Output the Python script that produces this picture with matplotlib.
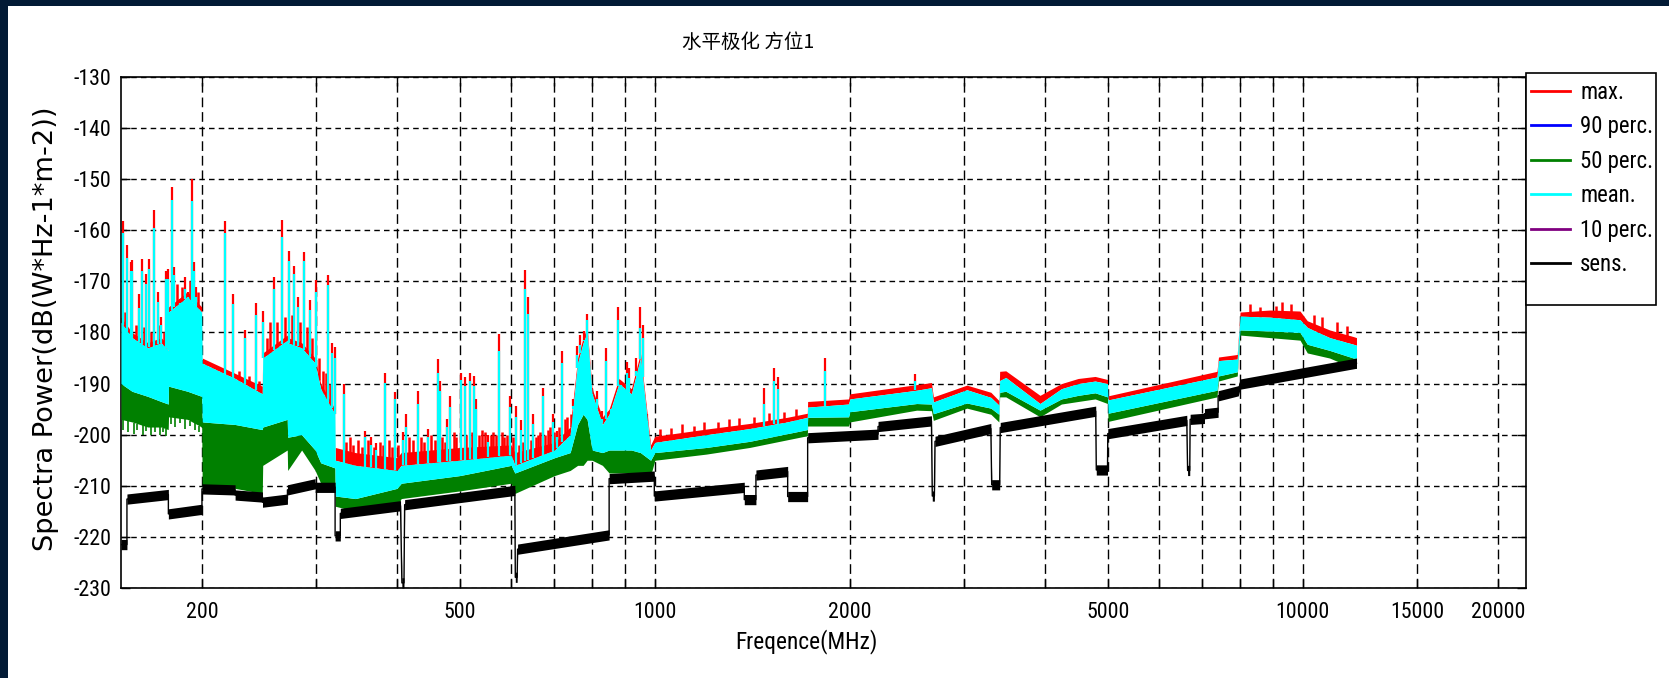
import numpy as np
import matplotlib
matplotlib.use("Agg")
import matplotlib.pyplot as plt
from matplotlib import font_manager as fm
from matplotlib.font_manager import FontProperties
from matplotlib.textpath import TextPath
from matplotlib.lines import Line2D
from matplotlib.patches import Rectangle
from matplotlib.ticker import FixedLocator, NullFormatter

# ---------------- spectrum envelopes (MHz, dB(W*Hz-1*m-2)) ----------------
freq = [150, 156, 165, 173, 177.4, 177.6, 190, 199.8, 200.2, 225, 247.8, 248.2,
        270.8, 271.2, 285, 299, 305, 320.8, 321.2, 345, 400, 406, 500, 600, 608,
        700, 740, 760, 775, 786, 800, 830, 850, 880, 920, 950, 985, 1000, 1200,
        1400, 1600, 1719, 1721, 1990, 2000, 2535, 2672, 2690, 3030, 3300, 3395,
        3405, 3480, 3930, 4240, 4500, 4780, 4995, 5005, 7370, 7410, 7920, 8000,
        8900, 9900, 10160, 11000, 11970, 12100]

p50_lo = [-197.0, -197.5, -198.5, -198.5, -199.0, -196.5, -197.0, -198.5, -210.5,
          -210.5, -211.5, -206.0, -203.0, -207.0, -203.0, -207.0, -209.5, -210.0,
          -214.0, -215.0, -214.0, -212.5, -211.0, -209.5, -211.5, -208.0, -207.0,
          -206.0, -206.0, -205.0, -205.0, -206.0, -207.5, -207.5, -207.5, -207.5,
          -208.0, -205.0, -203.8, -202.5, -201.0, -200.2, -198.3, -198.3, -197.5,
          -195.2, -195.3, -197.2, -194.8, -196.0, -197.5, -192.6, -192.6, -196.5,
          -194.0, -193.5, -193.0, -193.9, -197.4, -192.6, -189.5, -188.5, -180.5,
          -181.0, -181.5, -184.0, -185.0, -187.0, -187.0]

p50_hi = [-190.0, -191.5, -192.5, -193.5, -194.0, -190.5, -191.5, -192.5, -197.5,
          -198.0, -199.0, -198.5, -197.0, -200.5, -200.0, -203.0, -205.5, -206.5,
          -212.0, -212.5, -210.5, -209.5, -208.0, -206.0, -207.5, -204.5, -203.5,
          -198.0, -196.0, -197.0, -203.0, -203.5, -203.0, -203.0, -203.0, -203.5,
          -205.0, -203.5, -202.5, -201.3, -199.8, -199.0, -196.6, -196.5, -195.5,
          -193.9, -194.0, -195.9, -193.8, -194.8, -196.0, -191.7, -191.5, -195.2,
          -193.0, -192.3, -191.8, -192.6, -195.8, -191.3, -188.5, -187.7, -179.5,
          -179.7, -180.0, -182.3, -183.5, -185.0, -185.0]

mean_hi = [-178.0, -181.0, -183.0, -182.0, -183.5, -176.0, -173.0, -176.0, -186.0,
           -189.0, -192.0, -185.0, -181.5, -182.0, -183.0, -186.0, -191.0, -196.0,
           -205.0, -206.0, -207.0, -206.0, -205.0, -204.0, -206.0, -203.0, -200.0,
           -186.0, -182.0, -180.0, -192.0, -198.0, -196.0, -190.0, -192.0, -185.0,
           -203.0, -201.5, -200.0, -198.8, -197.5, -196.6, -194.6, -194.0, -193.0,
           -191.3, -190.8, -193.6, -191.2, -192.7, -194.2, -189.4, -188.8, -193.9,
           -191.0, -190.0, -189.5, -190.0, -193.2, -188.7, -185.5, -185.2, -176.8,
           -177.0, -177.5, -179.0, -181.0, -182.3, -182.5]

max_hi = [-177.0, -180.0, -182.0, -181.0, -182.5, -175.0, -172.0, -175.0, -185.0,
          -188.0, -190.5, -184.0, -180.5, -181.0, -182.0, -185.0, -190.0, -195.0,
          -202.5, -203.5, -204.5, -203.5, -202.5, -202.0, -203.5, -201.5, -198.5,
          -185.0, -181.0, -179.0, -191.0, -196.5, -195.0, -189.0, -191.0, -184.0,
          -202.0, -200.3, -198.9, -197.8, -196.6, -195.8, -193.5, -193.0, -192.0,
          -190.2, -189.8, -192.6, -190.3, -191.7, -193.3, -187.6, -187.5, -192.3,
          -190.0, -189.0, -188.6, -189.2, -192.4, -187.6, -184.8, -184.3, -176.0,
          -175.6, -175.8, -177.7, -179.5, -180.8, -181.0]

# narrow-band emissions: frequency, max. level, mean level
spike_freq = [150.9, 153.4, 155.4, 156.1, 160.0, 161.9, 164.2, 165.9, 168.6, 170.8,
              173.0, 176.0, 177.2, 179.6, 181.4, 184.7, 188.0, 190.3, 193.2, 194.6,
              196.1, 216.8, 223.5, 233.0, 242.6, 248.5, 258.3, 265.5, 272.8, 277.6,
              281.0, 287.0, 293.5, 300.0, 313.0, 317.0, 320.5, 331.8, 357.4, 365.0,
              371.0, 383.8, 397.6, 408.0, 413.5, 430.5, 446.0, 462.0, 465.5, 478.0,
              483.7, 502.0, 508.6, 518.0, 526.0, 530.0, 552.0, 575.0, 598.0, 611.5,
              622.0, 631.0, 638.0, 649.0, 671.6, 695.7, 706.0, 720.0, 748.0, 758.7,
              767.7, 776.8, 787.0, 800.0, 813.7, 829.0, 840.0, 855.0, 878.0, 886.0,
              907.0, 913.0, 935.0, 949.0, 957.0, 974.0, 1475.0, 1528.0, 1550.0,
              1833.0, 2520.0]
spike_max = [-158.2, -162.8, -166.3, -165.9, -172.4, -165.6, -168.5, -165.6, -156.0,
             -172.1, -177.0, -167.9, -167.5, -151.5, -167.2, -173.4, -169.2, -172.1,
             -150.0, -166.3, -171.1, -158.1, -172.5, -179.6, -174.3, -175.7, -169.2,
             -158.0, -164.1, -166.9, -173.0, -164.2, -173.7, -169.8, -168.7, -182.0,
             -182.9, -190.0, -199.2, -200.5, -201.7, -187.9, -191.7, -199.5, -195.9,
             -191.4, -198.8, -185.2, -189.5, -196.9, -192.4, -187.9, -188.8, -187.9,
             -188.5, -193.0, -200.1, -180.2, -192.4, -194.3, -197.2, -167.8, -173.0,
             -195.9, -190.8, -195.9, -199.2, -183.7, -193.0, -182.7, -180.5, -179.8,
             -176.3, -190.8, -191.4, -195.3, -183.0, -195.0, -175.0, -189.7, -185.8,
             -187.0, -185.0, -175.0, -178.5, -196.0, -190.8, -186.9, -188.8, -185.0,
             -188.1]
spike_mean = [-160.5, -165.5, -167.9, -168.0, -175.3, -168.0, -170.5, -167.5, -159.5,
              -174.0, -178.5, -169.5, -169.5, -154.0, -168.8, -175.0, -171.5, -173.5,
              -154.3, -168.0, -173.0, -160.5, -174.5, -181.0, -176.5, -178.0, -171.5,
              -161.4, -166.0, -168.5, -175.0, -166.0, -175.5, -172.0, -170.8, -184.0,
              -185.0, -192.0, -200.5, -202.0, -203.0, -189.8, -193.0, -201.0, -198.5,
              -194.0, -200.5, -187.9, -191.5, -198.5, -194.5, -189.2, -190.5, -189.5,
              -190.5, -195.0, -201.5, -183.7, -194.5, -196.5, -199.0, -171.4, -176.3,
              -198.0, -192.5, -197.5, -200.5, -186.0, -195.0, -184.5, -182.5, -181.5,
              -177.5, -192.5, -193.0, -197.0, -185.5, -196.5, -177.5, -191.5, -188.0,
              -189.0, -187.5, -179.2, -181.0, -198.0, -194.0, -189.5, -191.0, -187.5,
              -189.5]

# short excursions of the max. trace above the mean level
fleck_freq = [152, 158, 163, 167, 171, 175, 183, 186, 192, 197,
              203, 207, 211, 214, 219, 228, 231, 236, 239, 245,
              252, 255, 261, 269, 275, 283, 290, 296, 303, 308, 311, 315,
              334, 338, 342, 348, 353, 361, 368, 376, 380, 389, 393, 402,
              418, 424, 436, 441, 452, 457, 470, 474, 489, 494, 512, 522, 536, 541,
              546, 558, 563, 569, 580, 586, 592, 603,
              616, 626, 643, 655, 661, 666, 677, 683, 689, 700, 712, 726, 733, 742,
              1020, 1060, 1100, 1150, 1190, 1250, 1300, 1350, 1420, 1500, 1580, 1650,
              8300, 8600, 9100, 9300, 9600, 10400, 10700, 11300, 11700]
fleck_max = [-176.0, -178.5, -179.0, -180.0, -178.5, -180.0, -170.5, -171.0, -170.0, -172.0,
             -186.5, -188.0, -187.0, -189.5, -188.0, -187.5, -190.0, -188.5, -190.5, -189.5,
             -181.0, -178.0, -178.0, -177.0, -176.5, -178.0, -179.0, -181.0, -185.0, -187.5,
             -188.0, -190.0,
             -201.5, -200.5, -202.0, -201.0, -202.5, -201.0, -202.5, -201.5, -202.0, -201.0,
             -202.5, -202.0,
             -200.5, -201.0, -200.5, -201.5, -200.0, -201.0, -200.5, -201.5, -199.5, -200.5,
             -200.0, -199.5, -200.0, -199.0, -199.5, -200.0, -199.5, -200.0, -199.5, -200.5,
             -200.0, -200.5,
             -202.0, -201.5, -201.0, -200.5, -200.0, -199.5, -200.0, -199.0, -198.5, -199.5,
             -198.5, -197.0, -196.5, -196.0,
             -198.8, -198.7, -198.0, -198.2, -197.5, -197.6, -197.0, -196.8, -196.5, -195.8,
             -195.5, -195.0,
             -174.5, -175.0, -174.8, -174.0, -174.5, -176.5, -177.0, -178.0, -178.8]

# low excursions of the 50 perc. trace
hair_freq = [151, 154, 157, 159, 162, 164, 167, 169, 172, 174, 176,
             179, 182, 185, 188, 192, 195, 198]
hair_db = [-199.0, -199.5, -199.8, -199.0, -200.0, -199.2, -200.0, -199.5, -200.0,
           -199.5, -200.2, -198.0, -198.5, -197.8, -198.8, -198.3, -199.0, -199.5]

# receiver sensitivity (step curve)
sens_freq = [150, 153.2, 153.2, 177.5, 177.5, 200, 200, 225, 225, 248, 248, 271, 271,
             299, 299, 321, 321, 327, 327, 405, 407, 410, 411, 608, 609, 613, 614,
             850, 850, 998, 998, 1374, 1374, 1432, 1432, 1603, 1603, 1721, 1721,
             2210, 2210, 2672, 2680, 2700, 2706, 3300, 3310, 3405, 3412, 4790, 4800,
             4995, 5000, 6620, 6640, 6690, 6700, 7050, 7050, 7400, 7400, 7950, 8000,
             12100]
sens_db = [-221.5, -221.5, -212.6, -211.7, -215.5, -214.6, -210.6, -210.8, -211.8,
           -212.2, -213.2, -212.6, -210.8, -209.6, -210.3, -210.3, -219.8, -219.8,
           -215.4, -213.9, -229.0, -229.0, -213.7, -210.9, -227.9, -227.9, -222.4,
           -219.6, -208.6, -208.1, -212.0, -210.3, -212.7, -212.7, -207.9, -207.2,
           -212.1, -212.1, -200.6, -199.9, -198.4, -197.3, -212.0, -212.0, -201.3,
           -198.8, -209.8, -209.8, -198.6, -195.4, -206.9, -206.9, -199.8, -197.2,
           -207.0, -207.0, -197.0, -196.8, -195.9, -195.6, -192.4, -191.4, -190.1,
           -186.0]

x_ticks = [200, 500, 1000, 2000, 5000, 10000, 15000, 20000]
x_minor = [300, 400, 600, 700, 800, 900, 3000, 4000, 6000, 7000, 8000, 9000]
y_ticks = list(range(-230, -129, 10))

series_labels = ["max.", "90 perc.", "50 perc.", "mean.", "10 perc.", "sens."]
series_colors = ["#ff0000", "#0000ff", "#008000", "#00ffff", "#800080", "#000000"]

title_text = "水平极化 方位1"
x_label = "Freqence(MHz)"
y_label = "Spectra Power(dB(W*Hz-1*m-2))"

DPI = 100


# ---------------- fonts ----------------
def narrow_face():
    faces = fm.fontManager.ttflist
    for name in ("Liberation Sans Narrow", "Arial Narrow", "Roboto Condensed",
                 "Open Sans Condensed"):
        if any(f.name == name for f in faces):
            return FontProperties(family=name)
    for name in ("DejaVu Sans", "Roboto", "Open Sans", "Noto Sans"):
        if any(f.name == name and f.stretch == "condensed" for f in faces):
            return FontProperties(family=name, stretch="condensed")
    return FontProperties(family="Liberation Sans")


def sized(fp, sample, width_px):
    """Copy of fp whose size makes `sample` span width_px pixels."""
    probe = fp.copy()
    probe.set_size(100)
    w_pt = TextPath((0, 0), sample, prop=probe).get_extents().width
    out = fp.copy()
    out.set_size(100 * width_px / (w_pt * DPI / 72))
    return out


face = narrow_face()
tick_font = sized(face, "10000", 51)
legend_font = sized(face, "90 perc.", 70)
xlabel_font = sized(face, "Freqence(MHz)", 139)
ylabel_font = sized(FontProperties(family="DejaVu Sans"), y_label, 440)
plt.rcParams["axes.unicode_minus"] = False

# ---------------- figure ----------------
W, H = 1669, 678
fig = plt.figure(figsize=(W / DPI, H / DPI), dpi=DPI, facecolor="#021a35")
fig.patches.append(Rectangle((8 / W, 0), 1, 1 - 6 / H, transform=fig.transFigure,
                             facecolor="white", edgecolor="none", zorder=-10))

ax = fig.add_axes([121 / W, 1 - 588 / H, 1405 / W, 511 / H])
ax.set_zorder(1)
ax.set_xscale("log")
ax.set_xlim(150, 22100)
ax.set_ylim(-230, -130)
ax.set_axisbelow(True)

c_max, c_p90, c_p50, c_mean, c_p10, c_sens = series_colors
log_f = np.log10(freq)
spike_base = np.interp(np.log10(spike_freq), log_f, mean_hi)
fleck_base = np.interp(np.log10(fleck_freq), log_f, mean_hi)
hair_base = np.interp(np.log10(hair_freq), log_f, p50_lo)

# max.
ax.fill_between(freq, mean_hi, max_hi, color=c_max, lw=0, zorder=2)
ax.vlines(fleck_freq, fleck_base, fleck_max, color=c_max, lw=1.8, zorder=2)
ax.vlines(spike_freq, spike_base, spike_max, color=c_max, lw=1.6, zorder=2)
# 50 perc.
ax.fill_between(freq, p50_lo, p50_hi, color=c_p50, lw=0, zorder=3)
ax.vlines(hair_freq, hair_base, hair_db, color=c_p50, lw=1.2, zorder=3)
# mean.
ax.fill_between(freq, p50_hi, mean_hi, color=c_mean, lw=0, zorder=4)
ax.vlines(spike_freq, spike_base, spike_mean, color=c_mean, lw=1.6, zorder=4)
# sens.
sens = np.array(sens_db)
ax.fill_between(sens_freq, sens - 1.0, sens + 1.0, color=c_sens, lw=0, zorder=5)
ax.plot(sens_freq, sens_db, color=c_sens, lw=1.0, zorder=5)

# ---------------- axes styling ----------------
ax.xaxis.set_major_locator(FixedLocator(x_ticks))
ax.xaxis.set_minor_locator(FixedLocator(x_minor))
ax.xaxis.set_minor_formatter(NullFormatter())
ax.set_xticklabels([str(t) for t in x_ticks])
ax.set_yticks(y_ticks)
ax.set_yticklabels([str(t) for t in y_ticks])

ax.xaxis.grid(True, which="both", color="k", lw=1.0, ls=(0, (7, 3.5)))
ax.yaxis.grid(True, which="major", color="k", lw=1.0, ls=(0, (4, 3)))

ax.tick_params(which="both", direction="in", top=True, right=True,
               length=6.5, width=1.0, color="k")
ax.tick_params(axis="x", which="major", pad=10)
ax.tick_params(axis="y", which="major", pad=7)
for lab in ax.get_xticklabels() + ax.get_yticklabels():
    lab.set_fontproperties(tick_font)
for sp in ax.spines.values():
    sp.set_linewidth(1.2)

fig.text(748 / W, 1 - 42 / H, title_text, ha="center", va="center",
         fontsize=14, family=["Noto Sans CJK SC", "DejaVu Sans"])
fig.text(806 / W, 1 - 642 / H, x_label, ha="center", va="center",
         fontproperties=xlabel_font)
fig.text(46 / W, 1 - 329 / H, y_label, ha="center", va="center",
         rotation=90, fontproperties=ylabel_font)

# ---------------- legend: box drawn separately, entries placed inside ----------------
legend_box = Rectangle((1526 / W, 1 - 305 / H), 130 / W, 232 / H,
                       transform=fig.transFigure, facecolor="white",
                       edgecolor="k", lw=1.2, zorder=5)
fig.patches.append(legend_box)

fs = legend_font.get_size_in_points()
text_px = fs * DPI / 72
row_px = 33.8
handles = [Line2D([], [], color=c, lw=2.0) for c in series_colors]
leg = fig.legend(handles, series_labels, loc="upper left",
                 bbox_to_anchor=(1531 / W, 1 - (91.7 - 0.5 * 0.98 * text_px) / H),
                 borderaxespad=0, borderpad=0, frameon=False,
                 prop=legend_font, handlelength=39 / text_px,
                 handletextpad=10 / text_px,
                 labelspacing=max(0.2, (row_px - 0.98 * text_px) / text_px))
leg.set_zorder(6)

fig.savefig("out.png", dpi=DPI, facecolor=fig.get_facecolor())
